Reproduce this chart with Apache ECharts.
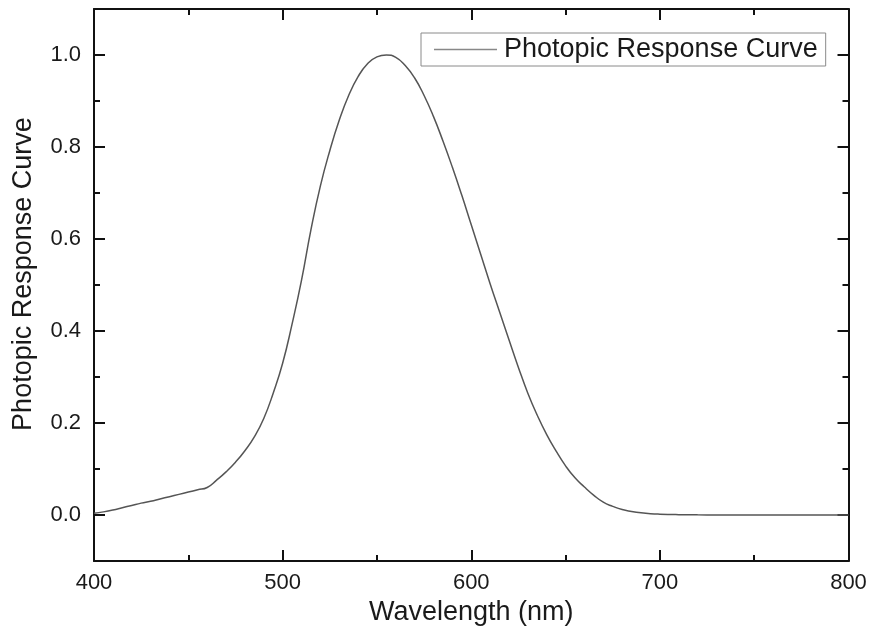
<!DOCTYPE html>
<html>
<head>
<meta charset="utf-8">
<script src="https://cdn.jsdelivr.net/npm/echarts@6/dist/echarts.min.js"></script>
<style>
html,body{margin:0;padding:0;background:#fff;}
#chart{width:871px;height:631px;}
</style>
</head>
<body>
<div id="chart"></div>
<script>
// Data
var wavelengths = [400,405,410,415,420,425,430,435,440,445,450,455,460,465,470,475,480,485,490,495,
  500,505,510,515,520,525,530,535,540,545,550,555,560,565,570,575,580,585,590,595,
  600,605,610,615,620,625,630,635,640,645,650,655,660,665,670,675,680,685,690,695,
  700,710,720,730,740,750,760,770,780,790,800];
var response = [0.004,0.007,0.011,0.016,0.021,0.026,0.030,0.035,0.040,0.045,0.050,0.055,0.060,0.076,0.094,0.115,0.140,0.170,0.210,0.265,
  0.330,0.415,0.510,0.620,0.715,0.792,0.858,0.912,0.953,0.981,0.996,1.000,0.995,0.977,0.950,0.912,0.866,0.813,0.756,0.695,
  0.631,0.567,0.503,0.442,0.381,0.321,0.265,0.217,0.175,0.139,0.107,0.081,0.061,0.043,0.028,0.019,0.012,0.008,0.005,0.003,
  0.002,0.001,0.0005,0.0003,0.0002,0.0001,0.00005,0.00003,0.00002,0.00001,0.00001];
var seriesName = 'Photopic Response Curve';
var xTitle = 'Wavelength (nm)';
var yTitle = 'Photopic Response Curve';
var yMajorTicks = [0, 0.2, 0.4, 0.6, 0.8, 1.0];
var yMinorTicks = [0.1, 0.3, 0.5, 0.7, 0.9];

var FONT = '"Liberation Sans", Arial, sans-serif';
var TXT = '#1a1a1a';
var AX = '#111';

var points = wavelengths.map(function (w, i) { return [w, response[i]]; });

function xAxisDef(pos, showLabels) {
  return {
    type: 'value', position: pos, min: 400, max: 800, interval: 100,
    name: showLabels ? xTitle : '', nameLocation: 'middle', nameGap: 35,
    nameTextStyle: { fontFamily: FONT, fontSize: 27, color: TXT },
    axisLine: { show: true, onZero: false, lineStyle: { color: AX, width: 2 } },
    axisTick: { show: true, inside: true, length: 11, lineStyle: { color: AX, width: 2 } },
    minorTick: { show: true, splitNumber: 2, length: 6, lineStyle: { color: AX, width: 2 } },
    axisLabel: { show: showLabels, fontFamily: FONT, fontSize: 22, color: TXT, margin: 11,
      showMinLabel: true, showMaxLabel: true },
    splitLine: { show: false }, minorSplitLine: { show: false }
  };
}
function yAxisDef(pos, showLabels, ticks, len, showLine, name) {
  return {
    type: 'value', position: pos, min: -0.1, max: 1.1, interval: 0.1, offset: 0,
    name: name || '', nameLocation: 'middle', nameGap: 57,
    nameTextStyle: { fontFamily: FONT, fontSize: 27, color: TXT, padding: [0, 0, 0, 22] },
    axisLine: { show: showLine, onZero: false, lineStyle: { color: AX, width: 2 } },
    axisTick: { show: true, inside: true, length: len, customValues: ticks, lineStyle: { color: AX, width: 2 } },
    axisLabel: { show: showLabels, customValues: yMajorTicks, fontFamily: FONT, fontSize: 22, color: TXT, margin: 13,
      formatter: function (v) { return v.toFixed(1); } },
    splitLine: { show: false }
  };
}

var chart = echarts.init(document.getElementById('chart'), null, { renderer: 'canvas' });
chart.setOption({
  backgroundColor: '#ffffff',
  animation: false,
  grid: { left: 94, right: 22.5, top: 9, bottom: 67.7, containLabel: false },
  legend: {
    show: true, left: 421, top: 33,
    padding: [3, 8, 3, 13],
    itemWidth: 63, itemHeight: 1.5, itemGap: 0,
    borderColor: '#8a8a8a', borderWidth: 1, borderRadius: 0,
    icon: 'rect',
    itemStyle: { color: '#888' },
    textStyle: { fontFamily: FONT, fontSize: 27, color: TXT, padding: [0, 0, 0, 2] },
    data: [seriesName]
  },
  xAxis: [xAxisDef('bottom', true), xAxisDef('top', false)],
  yAxis: [
    yAxisDef('left', true, yMajorTicks, 11, true, yTitle),
    yAxisDef('left', false, yMinorTicks, 6, false),
    yAxisDef('right', false, yMajorTicks, 11, true),
    yAxisDef('right', false, yMinorTicks, 6, false)
  ],
  series: [{
    name: seriesName, type: 'line', xAxisIndex: 0, yAxisIndex: 0,
    data: points, symbol: 'none', smooth: 0.5,
    lineStyle: { color: '#555', width: 1.5 },
    itemStyle: { color: '#555' }
  }]
});
</script>
</body>
</html>
